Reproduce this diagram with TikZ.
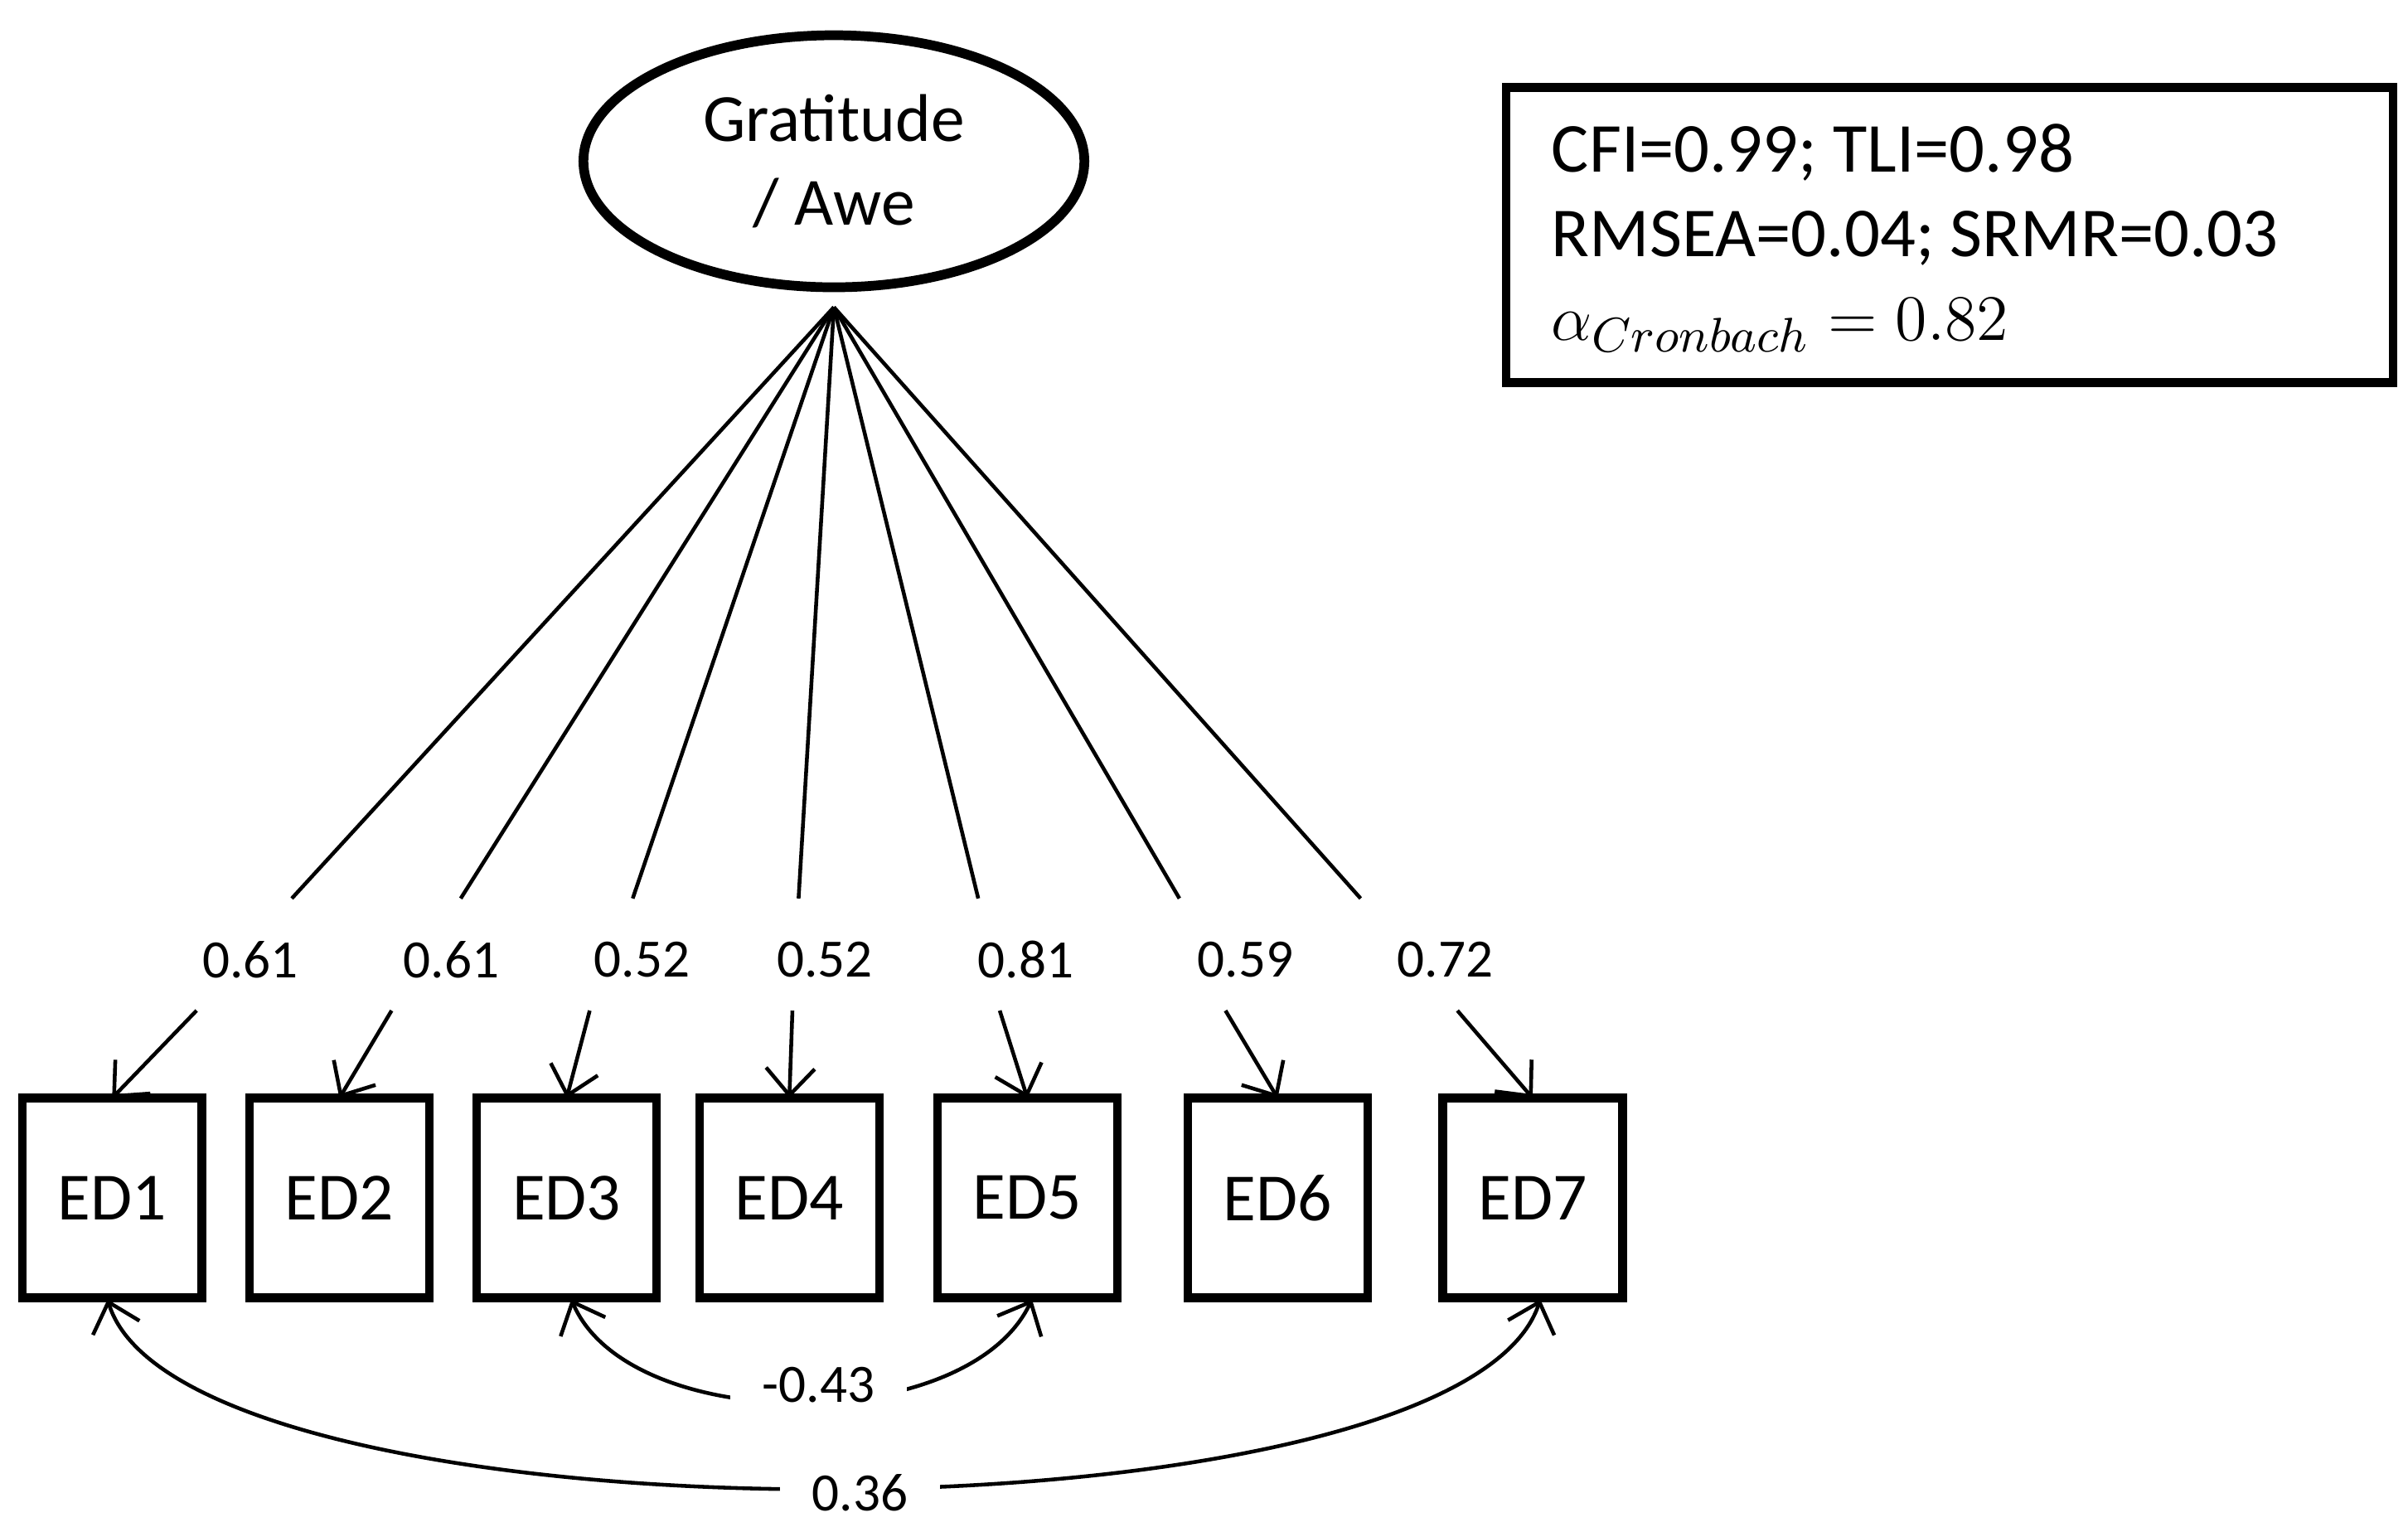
\documentclass[tikz,border=0pt]{standalone}
\usepackage{fontspec}
\setmainfont{Carlito}
\usetikzlibrary{arrows.meta,shapes.geometric}
\begin{document}
\begin{tikzpicture}[x=0.01cm,y=-0.01cm,
  obs/.style={draw,line width=1.6pt,minimum width=1.17cm,minimum height=1.3cm,font=\fontsize{12.5}{15}\selectfont},
  lab/.style={font=\fontsize{10}{12}\selectfont,inner sep=1pt},
  arr/.style={-{Straight Barb[length=5pt,width=9pt]},line width=0.7pt},
  cov/.style={{Straight Barb[length=5pt,width=9pt]}-{Straight Barb[length=5pt,width=9pt]},line width=0.7pt}]
\useasboundingbox (0,0) rectangle (1568,994);
\node[draw,ellipse,line width=1.8pt,minimum width=3.26cm,minimum height=1.64cm,inner sep=0pt,align=center,font=\fontsize{12.5}{15.6}\selectfont] (lat) at (543,105) {Gratitude\\/ Awe};
\node[draw,line width=1.6pt,minimum width=5.77cm,minimum height=1.92cm] (fit) at (1269.5,153) {};
\node[anchor=west,align=left,font=\fontsize{13}{15.6}\selectfont] (fitt) at (998,155) {CFI=0.99; TLI=0.98\\RMSEA=0.04; SRMR=0.03\\$\alpha_{Cronbach}=0.82$};
\coordinate (apex) at (543,200);
\foreach \i/\bx/\sx/\lx/\ax in {1/73/190/163/128, 2/221/300/294/255, 3/369/412/418/384, 4/514/520/537/516, 5/669/637/668/651, 6/832/768/811/798, 7/998/886/941/949}{
  \node[obs] (ed\i) at (\bx,780) {ED\i};
  \node[lab] (l\i) at (\lx,625) {0.\ifcase\i\or61\or61\or52\or52\or81\or59\or72\fi};
  \coordinate (s\i) at (\sx,585);
  \coordinate (a\i) at (\ax,658);
  \coordinate (e\i) at (\bx,715);
  \draw[line width=0.7pt] (apex) -- (s\i);
  \draw[arr] (a\i) -- (e\i);
}
\draw[cov] (372,846) .. controls (410,935) and (630,935) .. (672,846);
\node[lab,fill=white,inner xsep=6pt] (c1) at (533,902) {-0.43};
\draw[cov] (70,846) .. controls (120,1010) and (950,1010) .. (1003,846);
\node[lab,fill=white,inner xsep=6pt] (c2) at (560,972) {0.36};
\end{tikzpicture}
\end{document}
